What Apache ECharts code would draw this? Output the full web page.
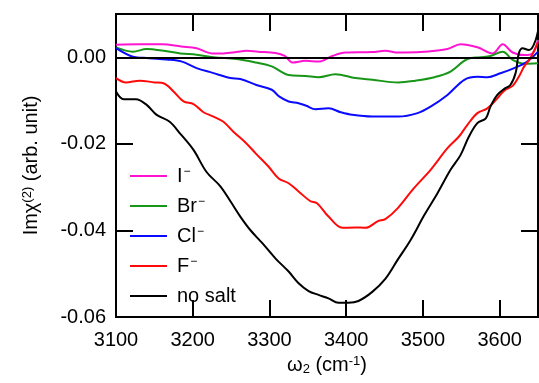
<!DOCTYPE html>
<html>
<head>
<meta charset="utf-8">
<script src="https://cdn.jsdelivr.net/npm/echarts@6/dist/echarts.min.js"></script>
<style>
  html, body { margin: 0; padding: 0; background: #fff; }
  #chart { width: 539px; height: 383px; }
</style>
</head>
<body>
<div id="chart"></div>
<script>
// wavenumber (cm^-1), Im chi(2) pairs
const iodide = [
  [3100, 0.0029], [3130, 0.0030], [3160, 0.0030], [3185, 0.0025], [3205, 0.0021],
  [3225, 0.0009], [3240, 0.0009], [3257, 0.0012], [3270, 0.0015], [3285, 0.0013],
  [3308, 0.0010], [3320, 0.0003], [3330, -0.0012], [3347, -0.0008], [3364, -0.0010],
  [3382, 0.0003], [3399, 0.0011], [3434, 0.0012], [3451, 0.0015], [3468, 0.0011],
  [3497, 0.0012], [3532, 0.0019], [3549, 0.0030], [3571, 0.0023], [3591, 0.0009],
  [3604, 0.0030], [3617, 0.0011], [3633, 0.0005], [3643, 0.0009], [3650, 0.0040]
];
const bromide = [
  [3100, 0.0023], [3122, 0.0013], [3140, 0.0019], [3162, 0.0015], [3184, 0.0009],
  [3205, 0.0006], [3227, 0.0000], [3257, -0.0004], [3282, -0.0012], [3303, -0.0021],
  [3325, -0.0041], [3347, -0.0043], [3364, -0.0046], [3386, -0.0039], [3412, -0.0048],
  [3434, -0.0052], [3468, -0.0058], [3490, -0.0054], [3515, -0.0046], [3536, -0.0033],
  [3558, -0.0004], [3575, 0.0000], [3588, 0.0003], [3604, 0.0013], [3617, -0.0006],
  [3633, -0.0015], [3650, -0.0014]
];
const chloride = [
  [3100, 0.0021], [3121, 0.0002], [3143, -0.0002], [3166, -0.0005], [3186, -0.0010],
  [3205, -0.0025], [3226, -0.0036], [3249, -0.0048], [3262, -0.0050], [3283, -0.0064],
  [3303, -0.0075], [3313, -0.0091], [3325, -0.0102], [3338, -0.0106], [3348, -0.0112],
  [3360, -0.0120], [3377, -0.0118], [3393, -0.0127], [3408, -0.0133], [3434, -0.0137],
  [3468, -0.0137], [3493, -0.0129], [3510, -0.0114], [3532, -0.0087], [3554, -0.0052],
  [3571, -0.0045], [3584, -0.0046], [3601, -0.0037], [3619, -0.0025], [3636, -0.0010],
  [3650, 0.0013]
];
const fluoride = [
  [3100, -0.0048], [3113, -0.0058], [3131, -0.0054], [3150, -0.0058], [3162, -0.0060],
  [3175, -0.0079], [3188, -0.0102], [3201, -0.0108], [3214, -0.0127], [3227, -0.0137],
  [3240, -0.0149], [3253, -0.0172], [3270, -0.0199], [3282, -0.0222], [3299, -0.0253],
  [3312, -0.0280], [3325, -0.0291], [3338, -0.0310], [3353, -0.0332], [3362, -0.0337],
  [3377, -0.0368], [3395, -0.0394], [3412, -0.0393], [3425, -0.0394], [3442, -0.0378],
  [3451, -0.0374], [3467, -0.0349], [3488, -0.0303], [3510, -0.0260], [3532, -0.0210],
  [3547, -0.0183], [3558, -0.0156], [3571, -0.0129], [3584, -0.0118], [3597, -0.0095],
  [3606, -0.0077], [3617, -0.0066], [3625, -0.0045], [3632, -0.0021], [3640, -0.0002],
  [3650, 0.0035]
];
const noSalt = [
  [3100, -0.0079], [3110, -0.0097], [3126, -0.0097], [3140, -0.0110], [3153, -0.0133],
  [3170, -0.0149], [3183, -0.0175], [3201, -0.0214], [3218, -0.0265], [3236, -0.0298],
  [3250, -0.0335], [3262, -0.0368], [3275, -0.0399], [3291, -0.0430], [3308, -0.0465],
  [3325, -0.0495], [3338, -0.0522], [3351, -0.0540], [3364, -0.0549], [3377, -0.0557],
  [3390, -0.0567], [3403, -0.0567], [3416, -0.0563], [3434, -0.0542], [3451, -0.0512],
  [3467, -0.0468], [3484, -0.0422], [3502, -0.0364], [3519, -0.0314], [3536, -0.0260],
  [3549, -0.0226], [3560, -0.0183], [3571, -0.0152], [3582, -0.0141], [3588, -0.0114],
  [3597, -0.0087], [3606, -0.0073], [3614, -0.0064], [3621, -0.0035], [3625, 0.0009],
  [3630, 0.0021], [3638, 0.0017], [3642, 0.0021], [3647, 0.0040], [3650, 0.0060]
];

const seriesNames = ['I-', 'Br-', 'Cl-', 'F-', 'no salt'];
const seriesData = [iodide, bromide, chloride, fluoride, noSalt];
const seriesColors = ['#ff14d2', '#179617', '#0a0aff', '#ff0a0a', '#000000'];
const xTicks = [3100, 3200, 3300, 3400, 3500, 3600];
const yTicks = [-0.06, -0.04, -0.02, 0.00];

const FONT = 'Liberation Sans, Arial, Helvetica, sans-serif';

const chart = echarts.init(document.getElementById('chart'));

function frame(extra) {
  return Object.assign({
    type: 'value',
    axisLine: { show: true, onZero: false, lineStyle: { color: '#000', width: 2 } },
    axisTick: { show: true, inside: true, length: 17, lineStyle: { color: '#000', width: 2 } },
    axisLabel: { show: false },
    minorTick: { show: false },
    splitLine: { show: false }
  }, extra);
}
const xRange = { min: xTicks[0], max: 3650, interval: 100 };
const yRange = { min: yTicks[0], max: 0.01, interval: 0.02 };
const plotBox = { left: 116, right: 1, top: 14, bottom: 66, outerBoundsMode: 'none' };

const option = {
  animation: false,
  // grid 1 only carries the tick marks for the bottom and left sides
  grid: [Object.assign({}, plotBox), Object.assign({}, plotBox)],
  xAxis: [
    frame(Object.assign({
      gridIndex: 0,
      position: 'bottom',
      axisLabel: {
        show: true, color: '#000', fontSize: 20, fontFamily: FONT, margin: 13,
        formatter: v => (xTicks.includes(v) ? String(v) : '')
      },
      name: 'ω{sub|2} (cm{sup|-1})',
      nameLocation: 'middle',
      nameGap: 37,
      nameTextStyle: {
        color: '#000', fontSize: 20, fontFamily: FONT,
        rich: {
          sub: { fontSize: 13, verticalAlign: 'bottom', padding: [8, 0, 0, 0], fontFamily: FONT, color: '#000' },
          sup: { fontSize: 13, verticalAlign: 'top', padding: [0, 0, 8, 0], fontFamily: FONT, color: '#000' }
        }
      }
    }, xRange)),
    frame(Object.assign({ gridIndex: 0, position: 'top' }, xRange)),
    frame(Object.assign({ gridIndex: 1, position: 'bottom' }, xRange))
  ],
  yAxis: [
    frame(Object.assign({
      gridIndex: 0,
      position: 'left',
      axisLabel: {
        show: true, color: '#000', fontSize: 20, fontFamily: FONT, margin: 10,
        formatter: v => (v > 0.005 ? '' : (Math.abs(v) < 1e-9 ? '0.00' : v.toFixed(2)))
      },
      name: 'Imχ{sup|(2)} (arb. unit)',
      nameLocation: 'middle',
      nameGap: 74,
      nameTextStyle: {
        color: '#000', fontSize: 20, fontFamily: FONT,
        rich: {
          sup: { fontSize: 13, verticalAlign: 'top', padding: [0, 0, 8, 0], fontFamily: FONT, color: '#000' }
        }
      }
    }, yRange)),
    frame(Object.assign({ gridIndex: 0, position: 'right' }, yRange)),
    frame(Object.assign({ gridIndex: 1, position: 'left' }, yRange))
  ],
  legend: {
    data: seriesNames,
    orient: 'vertical',
    left: 130,
    top: 166,
    padding: 0,
    itemGap: 9,
    icon: 'rect',
    itemWidth: 37,
    itemHeight: 2,
    selectedMode: false,
    formatter: n => (n === 'no salt' ? n : n.slice(0, -1) + '{s|−}'),
    textStyle: {
      color: '#000', fontSize: 20, lineHeight: 20, fontFamily: FONT, padding: [0, 0, 0, 5],
      rich: {
        s: { fontSize: 12, lineHeight: 20, verticalAlign: 'top', padding: [0, 0, 9, 1], color: '#000', fontFamily: FONT }
      }
    }
  },
  series: seriesNames.map((name, i) => ({
    name,
    type: 'line',
    xAxisIndex: 0,
    yAxisIndex: 0,
    data: seriesData[i],
    symbol: 'none',
    smooth: 0.35,
    color: seriesColors[i],
    lineStyle: { color: seriesColors[i], width: 2 },
    markLine: i === 0 ? {
      silent: true,
      symbol: 'none',
      label: { show: false },
      lineStyle: { color: '#000', width: 2, type: 'solid' },
      data: [{ yAxis: 0 }]
    } : undefined
  }))
};

chart.setOption(option);
</script>
</body>
</html>
